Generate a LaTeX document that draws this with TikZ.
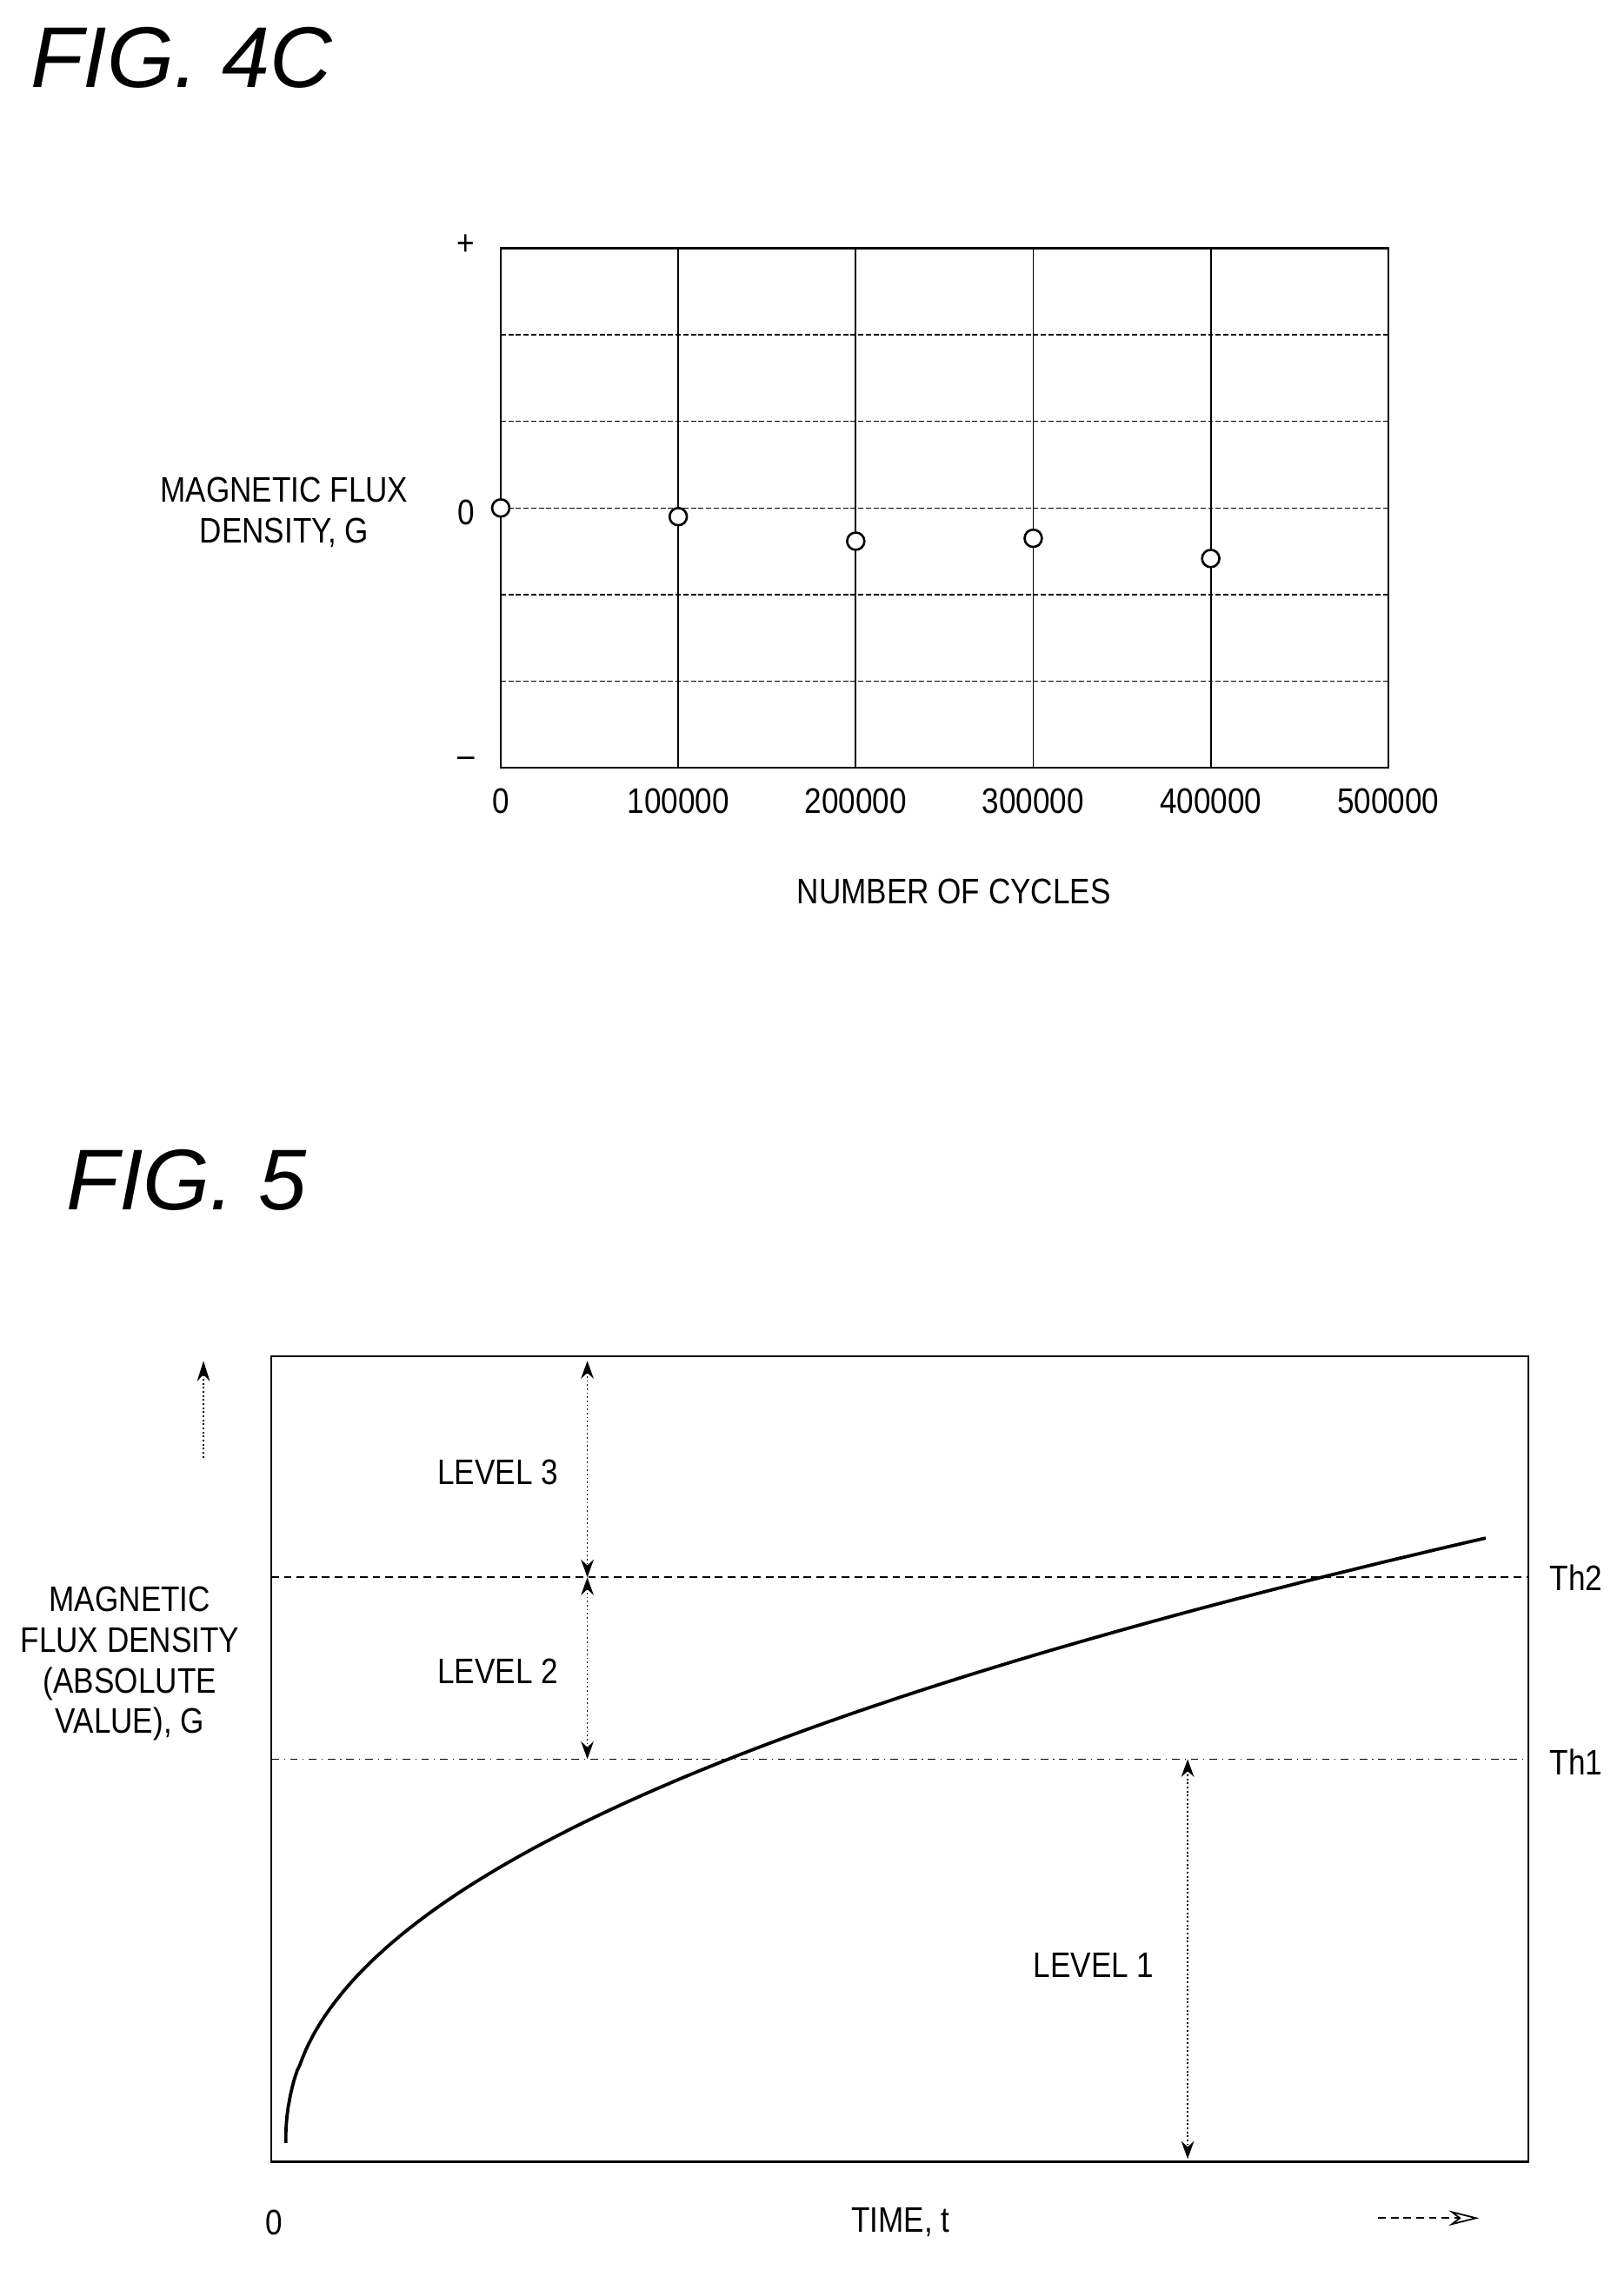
\documentclass[tikz,border=0pt]{standalone}
\usepackage{fontspec}
\setmainfont{Liberation Sans}[FakeStretch=0.86]
\newfontfamily\titlefont{Liberation Sans}
\usetikzlibrary{arrows.meta,positioning}
\tikzset{
  lbl/.style={font=\fontsize{14}{16}\selectfont,inner sep=1pt},
  figtitle/.style={font=\titlefont\itshape\fontsize{34}{38}\selectfont,anchor=west},
  grid line/.style={densely dashed,dash pattern=on 2pt off 1pt,line width=0.5pt},
  lvl/.style={densely dotted,line width=0.6pt,{Stealth[length=7pt,width=5pt]}-{Stealth[length=7pt,width=5pt]}},
  pt/.style={circle,draw,fill=white,line width=0.9pt,minimum size=0.24cm,inner sep=0pt}
}
\begin{document}
\begin{tikzpicture}[x=0.02cm,y=-0.02cm]
\useasboundingbox (0,0) rectangle (1125,1573);
% FIG. 4C
\node[figtitle] (T4) at (15,40) {FIG. 4C};
\foreach \y in {232,292,352,412,472}
  \draw[grid line] (347,\y) -- (962,\y);
\foreach \x in {470,593,716,839}
  \draw[line width=0.6pt] (\x,172) -- (\x,532);
\draw[line width=0.8pt] (347,172) rectangle (962,532);
\foreach \x/\v in {347/0,470/100000,593/200000,716/300000,839/400000,962/500000}
  \node[lbl] (X\v) at (\x,555) {\v};
\node[lbl] (Yp) at (323,170) {+};
\node[lbl] (Y0) at (323,355) {0};
\node[lbl] (Ym) at (323,528) {--};
\foreach \x/\y [count=\n] in {347/352,470/358,593/375,716/373,839/387}
  \node[pt] (P\n) at (\x,\y) {};
\node[lbl] (XL) at (661,618) {NUMBER OF CYCLES};
\node[lbl,align=center] (YL) at (197,355) {MAGNETIC FLUX\\DENSITY, G};
% FIG. 5
\node[figtitle] (T5) at (40,818) {FIG. 5};
\draw[line width=0.8pt] (188,940) rectangle (1059,1498);
\draw[densely dashed,line width=0.6pt] (188,1093) -- (1059,1093);
\draw[dash dot,line width=0.6pt] (188,1219) -- (1059,1219);
\node[lbl,anchor=west] (Th2) at (1072,1093) {Th2};
\node[lbl,anchor=west] (Th1) at (1072,1221) {Th1};
\draw[line width=1.3pt] plot[domain=0:1,samples=150] ({198+835*\x^(2.193)},{1485-420*\x});
\draw[lvl] (407,943) -- (407,1093);
\draw[lvl] (407,1093) -- (407,1219);
\draw[lvl] (823,1219) -- (823,1496);
\node[lbl] (L3) at (345,1020) {LEVEL 3};
\node[lbl] (L2) at (345,1158) {LEVEL 2};
\node[lbl] (L1) at (758,1362) {LEVEL 1};
\draw[densely dotted,line width=0.6pt,-{Stealth[length=8pt,width=5pt]}] (141,1010) -- (141,943);
\node[lbl,align=center] (YL5) at (90,1153) {MAGNETIC\\FLUX DENSITY\\(ABSOLUTE\\VALUE), G};
\node[lbl] (O) at (190,1540) {0};
\node[lbl] (XL5) at (624,1540) {TIME, t};
\draw[densely dashed,line width=0.6pt,-{Stealth[length=12pt,width=6pt,open]}] (955,1537) -- (1025,1537);
\end{tikzpicture}
\end{document}
